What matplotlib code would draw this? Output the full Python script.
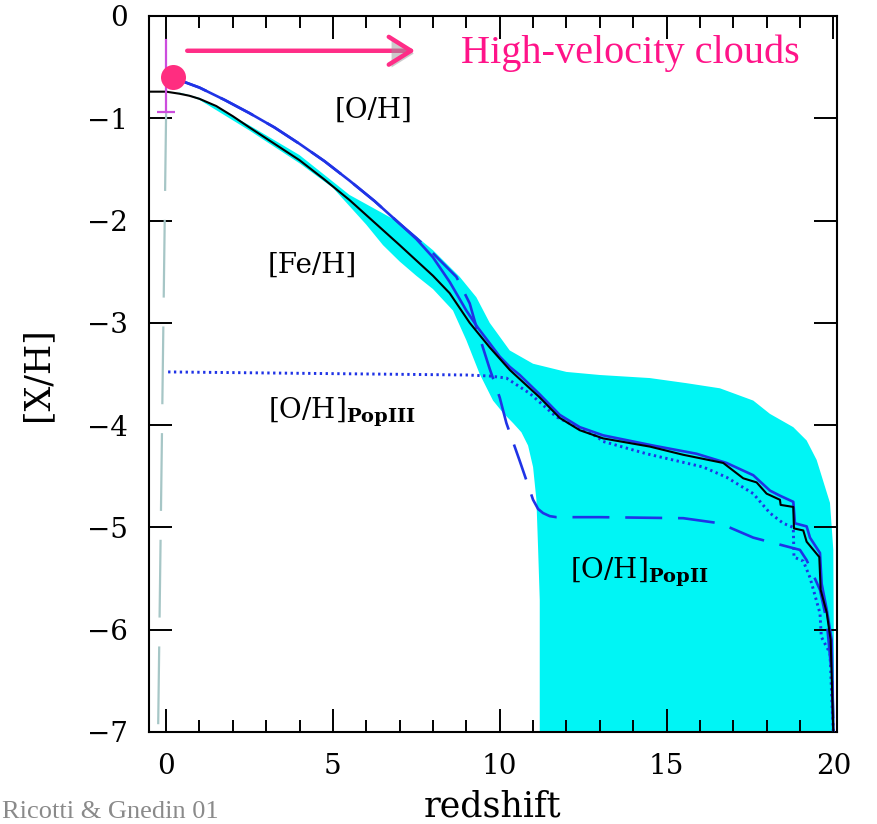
import numpy as np
import matplotlib
matplotlib.use("Agg")
import matplotlib.pyplot as plt
from matplotlib.ticker import MultipleLocator
import matplotlib.patheffects as pe

plt.rcParams['font.family'] = 'DejaVu Serif'
plt.rcParams['mathtext.fontset'] = 'dejavuserif'

# ---------------- data ----------------
# black solid line
z_black = [-0.5, 0.0, 0.4, 0.7, 1.0, 1.5, 2.0, 2.5, 3.25, 4.0, 4.75, 5.5, 6.25, 7.0, 7.6, 8.0,
           8.5, 9.1, 9.7, 10.3, 10.6, 11.2, 11.8, 12.4, 13.1, 14.5, 15.5, 16.7, 17.3, 17.7,
           18.0, 18.4, 18.42, 18.8, 18.82, 19.1, 19.2, 19.58, 19.62, 19.8, 19.92, 20.0]
x_black = [-0.74, -0.74, -0.76, -0.78, -0.81, -0.88, -0.98, -1.09, -1.25, -1.41, -1.60, -1.80,
           -2.02, -2.24, -2.42, -2.54, -2.71, -3.00, -3.24, -3.46, -3.55, -3.73, -3.93, -4.05,
           -4.13, -4.21, -4.29, -4.37, -4.52, -4.56, -4.67, -4.73, -4.78, -4.80, -5.01, -5.03,
           -5.14, -5.29, -5.61, -5.83, -6.10, -7.0]

# blue solid line [O/H]
z_oh = [0.18, 0.5, 1.0, 1.75, 2.5, 3.25, 4.0, 4.75, 5.5, 6.25, 7.0, 7.5, 8.0, 8.5, 9.0, 9.35,
        9.7, 10.0, 10.3, 10.6, 11.2, 11.8, 12.4, 13.1, 14.6, 15.9, 16.8, 17.6, 18.1, 18.4, 18.8,
        18.85, 19.2, 19.3, 19.6, 19.65, 19.8, 19.95, 20.0]
x_oh = [-0.60, -0.64, -0.70, -0.82, -0.95, -1.09, -1.25, -1.42, -1.61, -1.81, -2.03, -2.18,
        -2.36, -2.60, -2.88, -3.05, -3.20, -3.33, -3.43, -3.51, -3.70, -3.90, -4.02, -4.10,
        -4.20, -4.28, -4.37, -4.49, -4.64, -4.69, -4.75, -4.96, -4.99, -5.10, -5.25, -5.55,
        -5.80, -6.10, -7.0]

# blue dashed line [O/H]_PopII
z_pop2 = [0.18, 1.0, 1.75, 2.5, 3.25, 4.0, 4.75, 5.5, 6.25, 7.0, 7.5, 8.0, 8.7, 9.1, 9.3, 9.7,
          10.0, 10.2, 10.6, 11.0, 11.15, 11.3, 11.5, 11.7, 13.0, 15.5, 16.6, 17.6, 19.0, 19.2,
          19.6, 19.8, 19.97, 20.0]
x_pop2 = [-0.60, -0.70, -0.82, -0.95, -1.09, -1.25, -1.42, -1.61, -1.81, -2.03, -2.17, -2.32,
          -2.55, -2.81, -3.04, -3.45, -3.73, -3.98, -4.35, -4.73, -4.82, -4.86, -4.89, -4.90,
          -4.90, -4.91, -4.96, -5.10, -5.22, -5.32, -5.61, -5.91, -6.50, -7.0]

# blue dotted line [O/H]_PopIII
z_pop3 = [0.06, 3.0, 6.0, 9.0, 9.7, 10.2, 10.9, 11.7, 12.9, 13.1, 14.4, 16.1, 16.8, 17.6, 18.1,
          18.5, 18.8, 18.82, 19.1, 19.3, 19.6, 19.64, 19.9, 19.97, 20.0]
x_pop3 = [-3.48, -3.49, -3.50, -3.51, -3.52, -3.54, -3.69, -3.92, -4.11, -4.16, -4.28, -4.41,
          -4.51, -4.67, -4.86, -4.96, -5.00, -5.29, -5.33, -5.49, -5.84, -6.07, -6.23, -6.80, -7.0]

# cyan spread (upper and lower envelopes)
z_up = [0.3, 1.0, 2.5, 4.0, 5.5, 7.0, 8.0, 8.8, 9.3, 9.7, 10.3, 11.0, 12.0, 13.0, 14.5, 15.6,
        16.6, 17.6, 18.1, 18.8, 19.2, 19.5, 19.9, 20.0, 20.03]
x_up = [-0.74, -0.80, -1.07, -1.36, -1.75, -2.02, -2.29, -2.55, -2.75, -3.00, -3.27, -3.40,
        -3.48, -3.51, -3.54, -3.59, -3.64, -3.76, -3.89, -4.02, -4.15, -4.34, -4.76, -5.22, -7.0]
z_lo = [0.3, 1.0, 2.5, 4.0, 5.0, 5.5, 6.0, 6.5, 7.0, 7.5, 8.0, 8.6, 9.0, 9.4, 9.8, 10.1, 10.4,
        10.65, 10.85, 11.0, 11.1, 11.15, 11.2, 11.2]
x_lo = [-0.74, -0.82, -1.12, -1.44, -1.68, -1.86, -2.04, -2.24, -2.40, -2.54, -2.67, -2.88,
        -3.17, -3.50, -3.76, -3.88, -3.98, -4.07, -4.20, -4.41, -4.73, -5.20, -5.71, -7.0]

# high-velocity clouds
hvc_z = [0.2]
hvc_val = [-0.60]
hvc_bar_z = [0.0]
hvc_bar_lo = [-0.94]
hvc_bar_hi = [-0.23]

# grey dashed vertical reference
ref_z = [0.0, -0.24]
ref_val = [-0.95, -7.0]

# ---------------- figure ----------------
fig = plt.figure(figsize=(8.77, 8.24), dpi=100)
ax = fig.add_axes([0.170, 0.1117, 0.784, 0.8689])

cyan = '#00f5f5'
blue = '#1f33e6'
poly_z = list(z_up) + list(z_lo[::-1])
poly_x = list(x_up) + list(x_lo[::-1])
ax.fill(poly_z, poly_x, color=cyan, lw=0, zorder=1)

ax.plot(ref_z, ref_val, color='#a6c6c6', lw=1.6, ls=(0, (35, 13)), zorder=2)

ax.plot(z_pop3, x_pop3, color=blue, lw=2.1, ls=(0, (0.8, 1.2)), zorder=3)
ax.plot(z_pop2, x_pop2, color=blue, lw=1.9, ls=(0, (14, 6)), zorder=3)
ax.plot(z_oh, x_oh, color=blue, lw=1.9, zorder=4)
ax.plot(z_black, x_black, color='black', lw=1.5, zorder=5)

# HVC error bar + point
for zz, lo, hi in zip(hvc_bar_z, hvc_bar_lo, hvc_bar_hi):
    ax.plot([zz, zz], [lo, hi], color='#cc4ddd', lw=1.6, zorder=6)
    ax.plot([zz], [lo], marker='_', ms=13, mew=1.6, color='#cc4ddd', zorder=6)
ax.plot(hvc_z, hvc_val, 'o', ms=18, color='#ff2d80', mec='none', zorder=7)

ax.annotate('', xy=(7.55, -0.34), xytext=(0.55, -0.34),
            arrowprops=dict(arrowstyle='->,head_length=0.8,head_width=0.5',
                            color='#ff2d87', lw=3.2, mutation_scale=20,
                            path_effects=[pe.withSimplePatchShadow(offset=(2, -2),
                                                                   shadow_rgbFace='#999999',
                                                                   alpha=0.5)]),
            zorder=8)
ax.text(8.85, -0.36, 'High-velocity clouds', color='#ff1489', fontsize=29,
        family='Liberation Serif', ha='left', va='center', zorder=8)

# labels inside
ax.text(5.06, -0.92, '[O/H]', fontsize=20, ha='left', va='center')
ax.text(3.05, -2.44, '[Fe/H]', fontsize=20, ha='left', va='center')
ax.text(3.05, -3.88, r'[O/H]$_{\mathbf{PopIII}}$', fontsize=20, ha='left', va='center')
ax.text(12.1, -5.44, r'[O/H]$_{\mathbf{PopII}}$', fontsize=20, ha='left', va='center')

ax.set_xlim(-0.51, 20.1)
ax.set_ylim(-7, 0)
ax.xaxis.set_major_locator(MultipleLocator(5))
ax.xaxis.set_minor_locator(MultipleLocator(1))
ax.yaxis.set_major_locator(MultipleLocator(1))
ax.tick_params(which='both', direction='in', top=True, right=True, width=1.4, labelsize=20)
ax.tick_params(which='major', length=16.5, pad=15)
ax.tick_params(axis='y', which='major', pad=15)
ax.tick_params(which='minor', length=8.6)
for s in ax.spines.values():
    s.set_linewidth(1.5)

ax.set_xlabel('redshift', fontsize=25, labelpad=7)
ax.set_ylabel('[X/H]', fontsize=25, labelpad=24)

fig.text(2 / 877, 6 / 824, 'Ricotti & Gnedin 01', color='#8a8a8a', fontsize=19,
         family='Liberation Serif', ha='left', va='baseline')

fig.savefig('out.png', dpi=100)
